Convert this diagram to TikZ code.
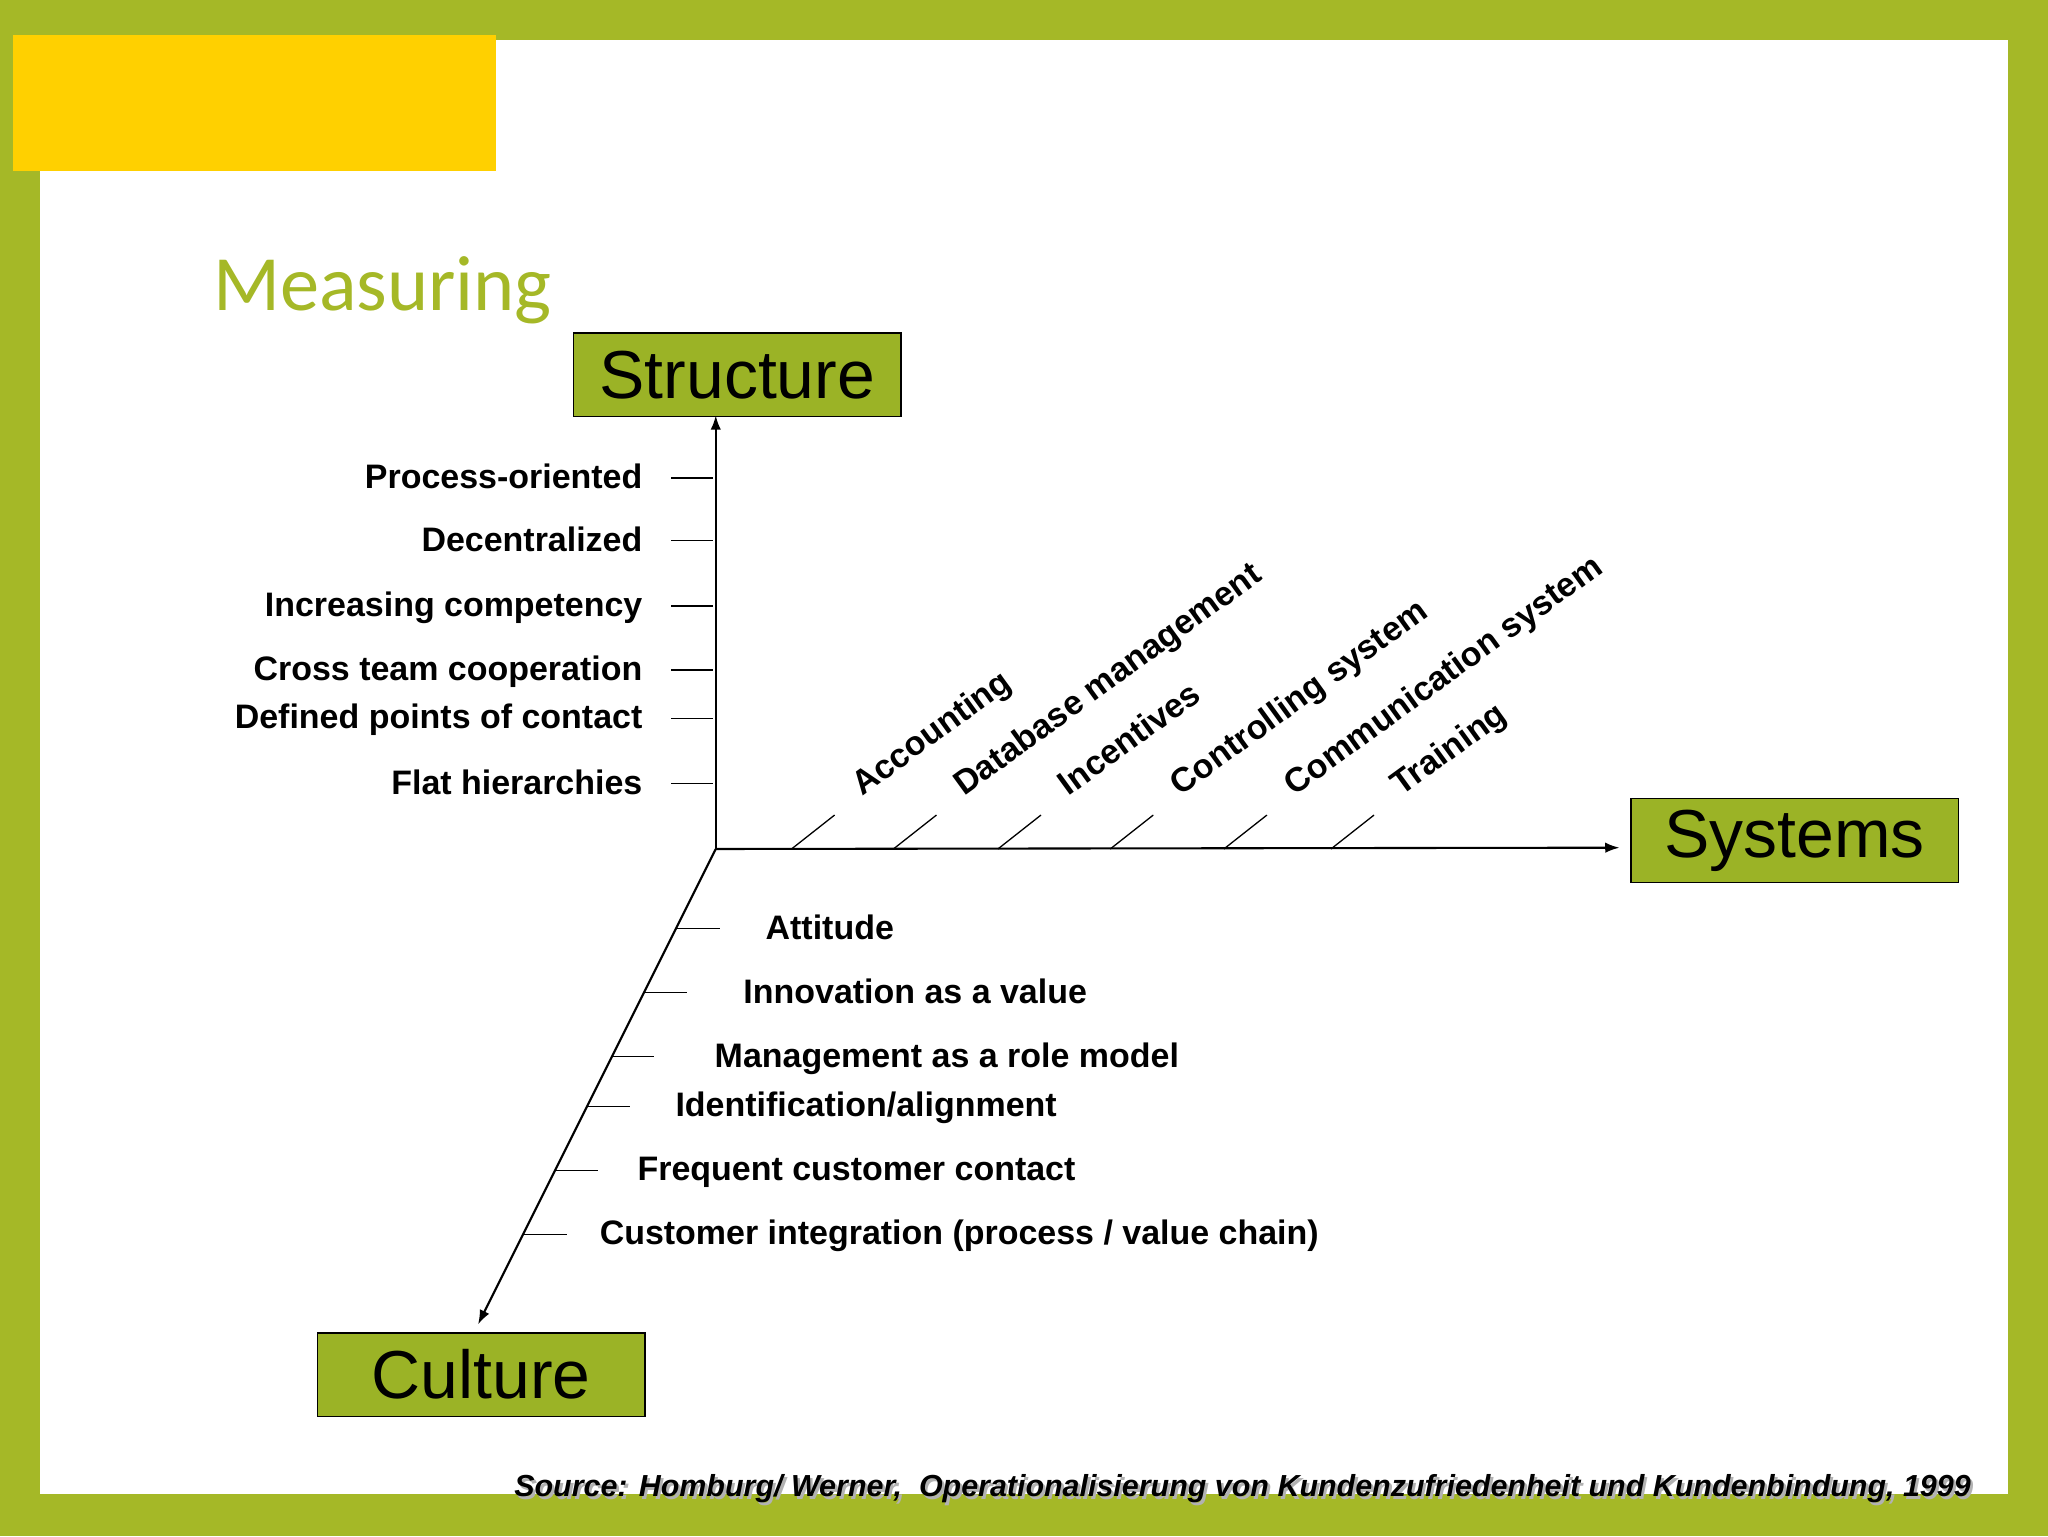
\documentclass[tikz,border=0pt]{standalone}
\usepackage{fontspec}
\setmainfont{Liberation Sans}
\newfontfamily\titlefont{Carlito}
\usetikzlibrary{arrows.meta}
\begin{document}
\begin{tikzpicture}[x=1pt,y=-1pt,
  box/.style={draw=black,line width=1.2pt,fill=olivebox,minimum width=251pt,minimum height=64pt,font=\fontsize{52}{52}\selectfont,inner sep=0pt},
  lbl/.style={font=\bfseries\fontsize{26}{26}\selectfont,inner sep=0pt},
  tick/.style={line width=1pt},
  ax/.style={line width=1.6pt,-{Latex[length=11pt,width=8pt]}}]
\definecolor{olivebg}{HTML}{A5B827}
\definecolor{olivebox}{HTML}{9BB326}
\definecolor{yel}{HTML}{FFD000}
\useasboundingbox (0,0) rectangle (1568,1176);
\fill[olivebg] (0,0) rectangle (1568,1176);
\fill[white] (31,31) rectangle (1537,1144);
\fill[yel] (10,27) rectangle (380,131);
\node[anchor=base west,text=olivebg,font=\titlefont\fontsize{60}{60}\selectfont,inner sep=0pt] (t) at (163,238) {Measuring};
\node[box] (S) at (564.5,287) {Structure};
\node[box] (Y) at (1374,643.5) {Systems};
\node[box] (C) at (368.5,1052.5) {Culture};
\coordinate (O) at (548,650);
\coordinate (Se) at (548,318);
\coordinate (Ye) at (1240,649);
\coordinate (Ce) at (366,1014);
\draw[ax] (O) -- (Se);
\draw[ax] (O) -- (Ye);
\draw[ax] (O) -- (Ce);
\foreach \y/\t in {366/{Process-oriented},414/{Decentralized},464/{Increasing competency},513/{Cross team cooperation},550/{Defined points of contact},600/{Flat hierarchies}}{
  \coordinate (a) at (514,\y); \coordinate (b) at (546,\y);
  \draw[tick] (a) -- (b);
  \node[lbl,anchor=base west] at (0,0) {}; 
  \node[lbl,anchor=base east] at (492,\y+8) {\t};
}
\foreach \x/\t in {606/{Accounting},684/{Database management},764/{Incentives},850/{Controlling system},937/{Communication system},1019/{Training}}{
  \coordinate (a) at (\x,650); \coordinate (b) at (\x+33,624);
  \draw[tick] (a) -- (b);
  \node[lbl,anchor=base west,rotate=36] at (\x+54,610) {\t};
}
\foreach \x/\y/\l/\t in {518/711/586/{Attitude},493/760/569/{Innovation as a value},468/809/547/{Management as a role model},449/847/517/{Identification/alignment},425/896/488/{Frequent customer contact},401/945/459/{Customer integration (process / value chain)}}{
  \coordinate (a) at (\x,\y); \coordinate (b) at (\x+33,\y);
  \draw[tick] (a) -- (b);
  \node[lbl,anchor=base west] at (\l,\y+8) {\t};
}
\node[anchor=base east,text=gray!60,font=\bfseries\itshape\fontsize{23.3}{23.3}\selectfont,inner sep=0pt] at (1511,1148) {Source: Homburg/ Werner,\ \ Operationalisierung von Kundenzufriedenheit und Kundenbindung, 1999};
\node[anchor=base east,font=\bfseries\itshape\fontsize{23.3}{23.3}\selectfont,inner sep=0pt] (src) at (1509,1146) {Source: Homburg/ Werner,\ \ Operationalisierung von Kundenzufriedenheit und Kundenbindung, 1999};
\end{tikzpicture}
\end{document}
